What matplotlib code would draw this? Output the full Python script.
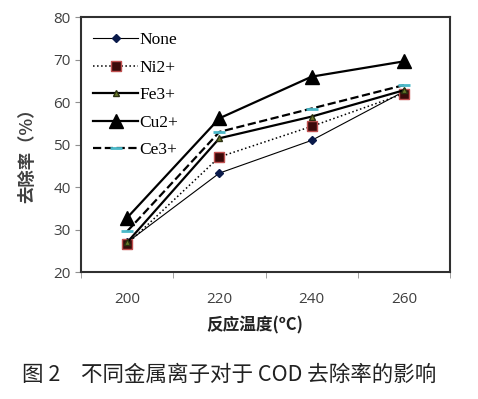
import matplotlib.pyplot as plt
import numpy as np

plt.rcParams['font.family'] = ['Liberation Serif', 'Noto Sans CJK SC', 'DejaVu Sans']

temps = ['200', '220', '240', '260']
none_vals = [27.0, 43.3, 51.0, 62.5]
ni_vals = [26.6, 47.1, 54.3, 62.0]
fe_vals = [27.0, 51.5, 56.6, 62.8]
cu_vals = [32.8, 56.2, 66.0, 69.6]
ce_vals = [29.6, 53.0, 58.5, 64.0]

fig = plt.figure(figsize=(4.78, 3.99), dpi=100)
ax = fig.add_axes([0.1695, 0.318, 0.772, 0.639])
x = np.arange(len(temps))

ax.plot(x, none_vals, '-', color='black', lw=0.8, marker='D', ms=4,
        mfc='#0a1a4a', mec='#0a1a4a', label='None')
ax.plot(x, ni_vals, ':', color='black', lw=1.1, marker='s', ms=7,
        mfc='#3a0a0a', mec='#c05050', label='Ni2+')
ax.plot(x, fe_vals, '-', color='black', lw=1.6, marker='^', ms=5,
        mfc='#6b7a2a', mec='#2a3010', label='Fe3+')
ax.plot(x, cu_vals, '-', color='black', lw=1.6, marker='^', ms=10,
        mfc='black', mec='black', label='Cu2+')
ax.plot(x, ce_vals, '--', color='black', lw=1.6, marker='_', ms=9, mew=2,
        mec='#4ab8c8', label='Ce3+')

ax.set_xlim(-0.5, 3.5)
ax.set_ylim(20, 80)
ax.set_yticks(np.arange(20, 81, 10))
ax.set_xticks(x)
ax.set_xticklabels(temps)
ax.set_xticks(np.arange(-0.5, 3.6, 1), minor=True)
ax.tick_params(axis='x', which='major', length=0, pad=14)
ax.tick_params(axis='x', which='minor', length=4, color='#909090')
ax.tick_params(axis='y', length=4, color='#909090')
for lab in ax.get_xticklabels() + ax.get_yticklabels():
    lab.set_family(['Open Sans', 'DejaVu Sans'])
    lab.set_fontsize(11)
    lab.set_color('#404040')
for s in ax.spines.values():
    s.set_color('#303030')
    s.set_linewidth(1.5)

ax.set_ylabel('去除率（%）', family=['Noto Sans CJK SC'], fontsize=12.5,
              fontweight='bold', color='#404040')
ax.yaxis.set_label_coords(-0.122, 0.475)
ax.set_xlabel('反应温度(ºC)', family=['Noto Sans CJK SC', 'DejaVu Sans'],
              fontsize=12, fontweight='bold', color='#222222')
ax.xaxis.set_label_coords(0.47, -0.175)

ax.legend(loc='upper left', bbox_to_anchor=(0.0, 0.99), frameon=False,
          fontsize=12.5, handlelength=2.6, labelspacing=0.66, handletextpad=0.05,
          borderaxespad=0.3)

fig.text(22 / 478, 1 - 375 / 399, '图 2', family=['Noto Sans CJK SC'],
         fontsize=15.5, color='#222222', va='center')
fig.text(81 / 478, 1 - 375 / 399, '不同金属离子对于 COD 去除率的影响',
         family=['Noto Sans CJK SC'], fontsize=15.5, color='#222222', va='center')

fig.savefig('out.png', dpi=100)
